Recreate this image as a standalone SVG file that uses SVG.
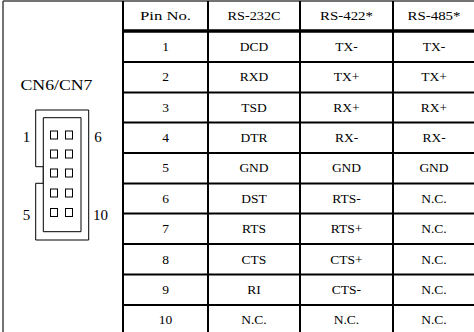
<svg xmlns="http://www.w3.org/2000/svg" width="474" height="332" viewBox="0 0 474 332">
<style>
.t{font-family:"Liberation Serif","Times New Roman",serif;font-size:13.5px;fill:#000;text-anchor:middle}
.b{font-family:"Liberation Serif","Times New Roman",serif;font-size:15px;fill:#000}
.g{stroke:#000;stroke-width:2;fill:none}
.f{stroke:#444;stroke-width:1.5;fill:none}
.c{stroke:#000;stroke-width:1;fill:#fff}
</style>
<rect width="474" height="332" fill="#fff"/>
<g id="frame">
<line class="f" x1="3" y1="1" x2="474" y2="1"/>
<line class="f" x1="3" y1="1" x2="3" y2="332"/>
</g>
<g id="connector">
<text class="b" x="56.5" y="90" text-anchor="middle" textLength="72" lengthAdjust="spacingAndGlyphs">CN6/CN7</text>
<path class="c" d="M35.7,110 H88.7 V240 H35.7 V183.3 H43.3 V166.7 H35.7 Z"/>
<path class="c" d="M43.3,117.7 H81 V231.7 H43.3 Z"/>
<g fill="#fff" stroke="#000" stroke-width="1">
<rect x="50.5" y="131" width="7" height="8"/><rect x="65.5" y="131" width="7" height="8"/>
<rect x="50.5" y="150" width="7" height="8"/><rect x="65.5" y="150" width="7" height="8"/>
<rect x="50.5" y="169" width="7" height="8"/><rect x="65.5" y="169" width="7" height="8"/>
<rect x="50.5" y="189" width="7" height="8"/><rect x="65.5" y="189" width="7" height="8"/>
<rect x="50.5" y="208.5" width="7" height="8"/><rect x="65.5" y="208.5" width="7" height="8"/>
</g>
<text class="b" x="26.5" y="142" text-anchor="middle">1</text>
<text class="b" x="98" y="142" text-anchor="middle">6</text>
<text class="b" x="26.5" y="220" text-anchor="middle">5</text>
<text class="b" x="100.5" y="220" text-anchor="middle">10</text>
</g>
<g id="grid">
<line class="g" x1="123" y1="1" x2="123" y2="332"/>
<line class="g" x1="208" y1="1" x2="208" y2="332"/>
<line class="g" x1="300" y1="1" x2="300" y2="332"/>
<line class="g" x1="393" y1="1" x2="393" y2="332"/>
<line x1="123" y1="31" x2="474" y2="31" stroke="#000" stroke-width="3.5"/>
<line class="g" x1="123" y1="62" x2="474" y2="62"/>
<line class="g" x1="123" y1="92.5" x2="474" y2="92.5"/>
<line class="g" x1="123" y1="122.5" x2="474" y2="122.5"/>
<line class="g" x1="123" y1="153" x2="474" y2="153"/>
<line class="g" x1="123" y1="183.5" x2="474" y2="183.5"/>
<line class="g" x1="123" y1="213.5" x2="474" y2="213.5"/>
<line class="g" x1="123" y1="244" x2="474" y2="244"/>
<line class="g" x1="123" y1="274.5" x2="474" y2="274.5"/>
<line class="g" x1="123" y1="305" x2="474" y2="305"/>
</g>
<g id="header">
<text class="t" x="165.5" y="20" textLength="51" lengthAdjust="spacingAndGlyphs">Pin No.</text>
<text class="t" x="254" y="20" textLength="53" lengthAdjust="spacingAndGlyphs">RS-232C</text>
<text class="t" x="346.5" y="20" textLength="53" lengthAdjust="spacingAndGlyphs">RS-422*</text>
<text class="t" x="434" y="20" textLength="53" lengthAdjust="spacingAndGlyphs">RS-485*</text>
</g>
<g id="row1"><text class="t" x="165.5" y="50.5">1</text><text class="t" x="254" y="50.5">DCD</text><text class="t" x="346.5" y="50.5">TX-</text><text class="t" x="434" y="50.5">TX-</text></g>
<g id="row2"><text class="t" x="165.5" y="81">2</text><text class="t" x="254" y="81">RXD</text><text class="t" x="346.5" y="81">TX+</text><text class="t" x="434" y="81">TX+</text></g>
<g id="row3"><text class="t" x="165.5" y="111.5">3</text><text class="t" x="254" y="111.5">TSD</text><text class="t" x="346.5" y="111.5">RX+</text><text class="t" x="434" y="111.5">RX+</text></g>
<g id="row4"><text class="t" x="165.5" y="141.5">4</text><text class="t" x="254" y="141.5">DTR</text><text class="t" x="346.5" y="141.5">RX-</text><text class="t" x="434" y="141.5">RX-</text></g>
<g id="row5"><text class="t" x="165.5" y="172">5</text><text class="t" x="254" y="172">GND</text><text class="t" x="346.5" y="172">GND</text><text class="t" x="434" y="172">GND</text></g>
<g id="row6"><text class="t" x="165.5" y="202.5">6</text><text class="t" x="254" y="202.5">DST</text><text class="t" x="346.5" y="202.5">RTS-</text><text class="t" x="434" y="202.5">N.C.</text></g>
<g id="row7"><text class="t" x="165.5" y="233">7</text><text class="t" x="254" y="233">RTS</text><text class="t" x="346.5" y="233">RTS+</text><text class="t" x="434" y="233">N.C.</text></g>
<g id="row8"><text class="t" x="165.5" y="263.5">8</text><text class="t" x="254" y="263.5">CTS</text><text class="t" x="346.5" y="263.5">CTS+</text><text class="t" x="434" y="263.5">N.C.</text></g>
<g id="row9"><text class="t" x="165.5" y="294">9</text><text class="t" x="254" y="294">RI</text><text class="t" x="346.5" y="294">CTS-</text><text class="t" x="434" y="294">N.C.</text></g>
<g id="row10"><text class="t" x="165.5" y="324">10</text><text class="t" x="254" y="324">N.C.</text><text class="t" x="346.5" y="324">N.C.</text><text class="t" x="434" y="324">N.C.</text></g>
</svg>
